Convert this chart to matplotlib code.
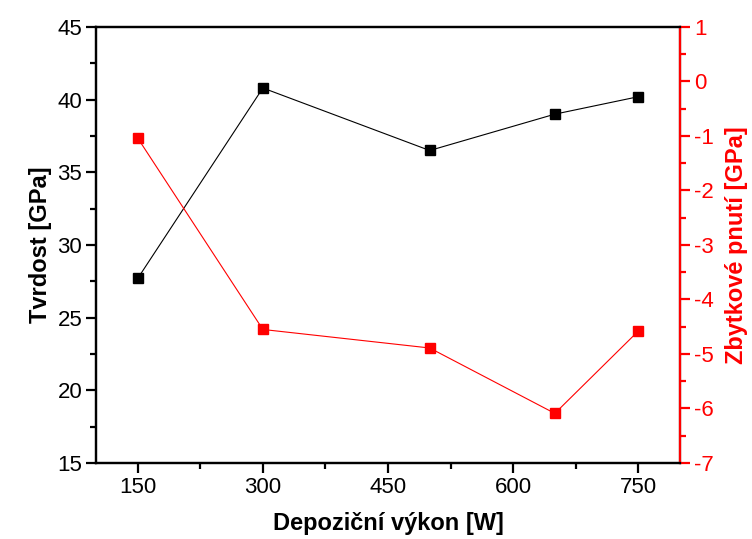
import numpy as np
import matplotlib
matplotlib.use('Agg')
from matplotlib import pyplot as plt
from matplotlib.ticker import MultipleLocator

plt.rcParams['font.family'] = ['Liberation Sans', 'DejaVu Sans']
plt.rcParams['axes.unicode_minus'] = False

vykon = [150, 300, 500, 650, 750]
tvrdost = [27.7, 40.8, 36.5, 39.0, 40.2]
pnuti = [-1.04, -4.55, -4.89, -6.09, -4.58]
x_ticks = [150, 300, 450, 600, 750]

fig = plt.figure(figsize=(7.52, 5.39), dpi=100)
ax = fig.add_axes([0.1277, 0.141, 0.7765, 0.809])
ax2 = ax.twinx()

ax.plot(vykon, tvrdost, color='black', lw=0.8, marker='s', ms=6.5, mec='black')
ax2.plot(vykon, pnuti, color='red', lw=0.8, marker='s', ms=6.5, mec='red')

ax.set_xlim(100, 800)
ax.set_ylim(15, 45)
ax2.set_ylim(-7, 1)

ax.set_xticks(x_ticks)
ax.xaxis.set_minor_locator(MultipleLocator(75))
ax.yaxis.set_major_locator(MultipleLocator(5))
ax.yaxis.set_minor_locator(MultipleLocator(2.5))
ax2.yaxis.set_major_locator(MultipleLocator(1))
ax2.yaxis.set_minor_locator(MultipleLocator(0.5))

for a in (ax, ax2):
    for s in a.spines.values():
        s.set_linewidth(1.6)
ax2.spines['right'].set_color('red')

ax.tick_params(which='major', direction='out', length=7, width=1.6, labelsize=16, pad=3)
ax.tick_params(which='minor', direction='out', length=4, width=1.6)
ax.tick_params(top=False, which='both')
ax2.tick_params(which='major', direction='out', length=7, width=1.6, labelsize=16,
                colors='red', pad=3)
ax2.tick_params(which='minor', direction='out', length=4, width=1.6, colors='red')

ax.set_xlabel('Depoziční výkon [W]', fontsize=17, fontweight='bold', labelpad=10)
ax.set_ylabel('Tvrdost [GPa]', fontsize=17, fontweight='bold', labelpad=4)
ax2.set_ylabel('Zbytkové pnutí [GPa]', fontsize=17, fontweight='bold', color='red', labelpad=8)

fig.savefig('out.png', dpi=100)
